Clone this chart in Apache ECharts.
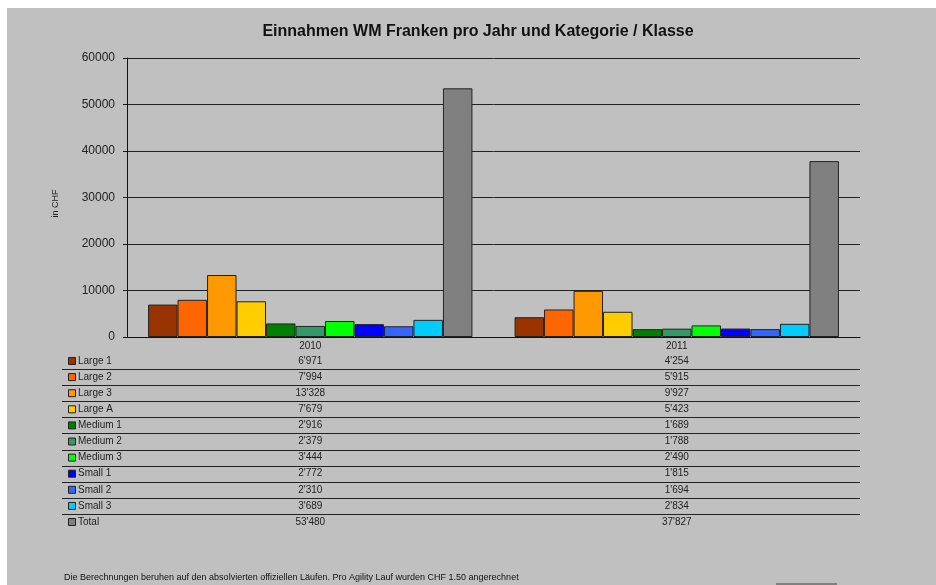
<!DOCTYPE html>
<html>
<head>
<meta charset="utf-8">
<script src="https://cdn.jsdelivr.net/npm/echarts@6/dist/echarts.min.js"></script>
<style>
html,body{margin:0;padding:0;background:#fff;}
#wrap{position:absolute;left:7px;top:8px;width:929px;height:577px;background:#c0c0c0;}
#c{position:absolute;left:0;top:0;width:936px;height:585px;}
</style>
</head>
<body>
<div id="wrap"></div>
<div id="c"></div>
<script>
var categories = ['2010', '2011'];
var seriesNames = ['Large 1','Large 2','Large 3','Large A','Medium 1','Medium 2','Medium 3','Small 1','Small 2','Small 3','Total'];
var seriesColors = ['#993300','#FF6600','#FF9900','#FFCC00','#008000','#339966','#00FF00','#0000FF','#3366FF','#00CCFF','#808080'];
var values2010 = [6971, 7994, 13328, 7679, 2916, 2379, 3444, 2772, 2310, 3689, 53480];
var values2011 = [4254, 5915, 9927, 5423, 1689, 1788, 2490, 1815, 1694, 2834, 37827];
var yTicks = [0, 10000, 20000, 30000, 40000, 50000, 60000];
var titleText = 'Einnahmen WM Franken pro Jahr und Kategorie / Klasse';
var footnote = 'Die Berechnungen beruhen auf den absolvierten offiziellen Läufen. Pro Agility Lauf wurden CHF 1.50 angerechnet';

function fmt(v){ return String(v).replace(/\B(?=(\d{3})+(?!\d))/g, "'"); }

var chart = echarts.init(document.getElementById('c'), null, {renderer:'canvas'});
var font = 'Arial, "Liberation Sans", sans-serif';

var series = seriesNames.map(function(n, i){
  return {
    name: n, type: 'bar',
    data: [values2010[i], values2011[i]],
    barGap: '0%', barCategoryGap: '11.5%',
    itemStyle: {color: seriesColors[i], borderColor: '#222', borderWidth: 1},
    emphasis: {disabled: true}
  };
});

chart.setOption({
  backgroundColor: 'transparent',
  animation: false,
  grid: {left: 127, right: 76, top: 58, bottom: 248},
  xAxis: {
    type: 'category', data: categories,
    axisLine: {lineStyle: {color: '#111', width: 1}},
    axisTick: {show: false},
    axisLabel: {fontFamily: font, fontSize: 10, color: '#222', margin: 4}
  },
  yAxis: {
    type: 'value', min: 0, max: 60000, interval: 10000,
    name: 'in CHF', nameLocation: 'middle', nameGap: 67, nameRotate: 90,
    nameTextStyle: {fontFamily: font, fontSize: 9, color: '#222', padding: [0, 12, 0, 0]},
    axisLine: {show: true, lineStyle: {color: '#111', width: 1}},
    axisTick: {show: true, length: 4, lineStyle: {color: '#111'}},
    splitLine: {lineStyle: {color: '#222', width: 1}},
    axisLabel: {fontFamily: font, fontSize: 12, color: '#222', margin: 12,
      formatter: function(v){ return yTicks.indexOf(v) >= 0 ? String(v) : ''; }}
  },
  series: series
});

// data table under the chart
var x2010 = chart.convertToPixel({xAxisIndex: 0}, categories[0]);
var x2011 = chart.convertToPixel({xAxisIndex: 0}, categories[1]);
var rowTop = 361, rowStep = 16.1;
var g = [];
g.push({type: 'text', x: 478, y: 32, style: {text: titleText, font: 'bold 16px ' + font, fill: '#111', textAlign: 'center', textVerticalAlign: 'middle'}, silent: true});
seriesNames.forEach(function(n, i){
  var y = rowTop + i * rowStep;
  g.push({type: 'rect', shape: {x: 68.5, y: y - 3.5, width: 7, height: 7},
    style: {fill: seriesColors[i], stroke: '#222', lineWidth: 1}, silent: true});
  g.push({type: 'text', x: 78, y: y, style: {text: n, font: '10px ' + font, fill: '#222', textVerticalAlign: 'middle', textAlign: 'left'}, silent: true});
  g.push({type: 'text', x: x2010, y: y, style: {text: fmt(values2010[i]), font: '10px ' + font, fill: '#222', textVerticalAlign: 'middle', textAlign: 'center'}, silent: true});
  g.push({type: 'text', x: x2011, y: y, style: {text: fmt(values2011[i]), font: '10px ' + font, fill: '#222', textVerticalAlign: 'middle', textAlign: 'center'}, silent: true});
  if (i < seriesNames.length - 1) {
    var ly = Math.round(y + 8) + 0.5;
    g.push({type: 'line', shape: {x1: 62, y1: ly, x2: 860, y2: ly}, style: {stroke: '#222', lineWidth: 1}, silent: true});
  }
});
g.push({type: 'text', x: 64, y: 578, style: {text: footnote, font: '9px ' + font, fill: '#111', textVerticalAlign: 'middle'}, silent: true});
g.push({type: 'rect', shape: {x: 776, y: 583, width: 61, height: 2}, style: {fill: '#808080'}, silent: true});
chart.setOption({graphic: g});
</script>
</body>
</html>
